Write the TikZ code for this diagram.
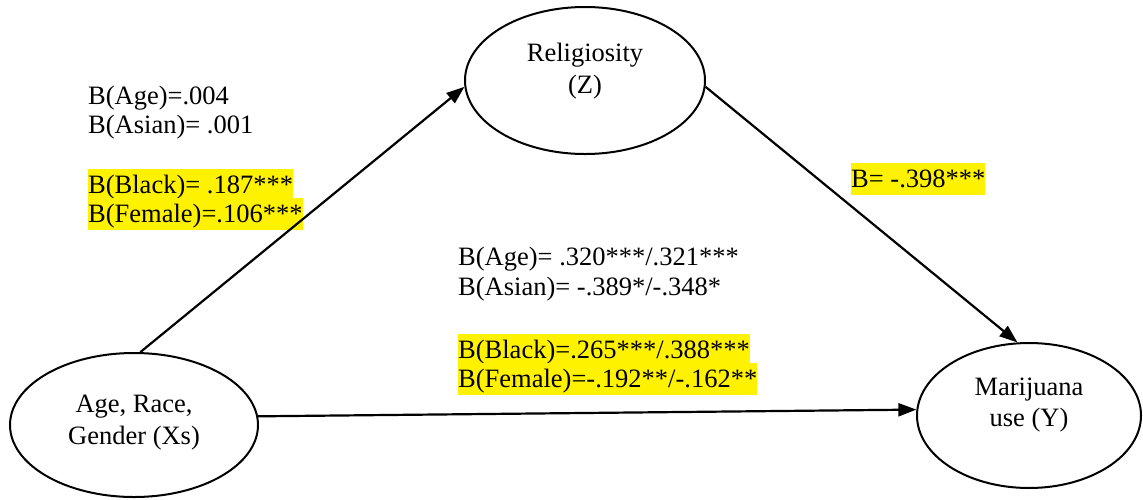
\documentclass[tikz,border=0pt]{standalone}
\usepackage{fontspec}
\setmainfont{Liberation Serif}
\usetikzlibrary{arrows.meta, shapes.geometric}

\begin{document}
\begin{tikzpicture}[
  x=1pt, y=-1pt,
  var/.style={ellipse, draw=black, line width=2pt, inner sep=0pt, align=center, text height=51pt, font=\fontsize{26.5}{31.5}\selectfont},
  coef/.style={anchor=base west, inner sep=0pt, font=\fontsize{26.5}{29.5}\selectfont},
  hl/.style={coef, fill=yellow, text height=24pt, text depth=8pt},
  arr/.style={-{Triangle[length=18pt, width=13pt]}, line width=2.2pt}
]
\useasboundingbox (0,0) rectangle (1143,499);
\node[var, text depth=26pt, minimum width=240pt, minimum height=147pt] (rel) at (585,80.5) {Religiosity\\(Z)};
\node[var, text depth=13pt, minimum width=248pt, minimum height=144pt] (xs) at (134,425) {Age, Race,\\Gender (Xs)};
\node[var, text depth=29pt, minimum width=224pt, minimum height=145pt] (mar) at (1029,415.5) {Marijuana\\use (Y)};
\node[coef] (a1) at (88,104) {B(Age)=.004};
\node[coef] (a2) at (88,133) {B(Asian)= .001};
\node[hl] (a3) at (88,193) {B(Black)= .187***};
\node[hl] (a4) at (88,222) {B(Female)=.106***};
\node[hl] (b1) at (851,187) {B= -.398***};
\node[coef] (c1) at (458,265) {B(Age)= .320***/.321***};
\node[coef] (c2) at (458,295) {B(Asian)= -.389*/-.348*};
\node[hl] (c3) at (458,358) {B(Black)=.265***/.388***};
\node[hl] (c4) at (458,387) {B(Female)=-.192**/-.162**};
\foreach \x/\y in {xs.85/rel.183, rel.357/mar.99, xs.4/mar.177} \draw[arr] (\x)--(\y);
\end{tikzpicture}
\end{document}
